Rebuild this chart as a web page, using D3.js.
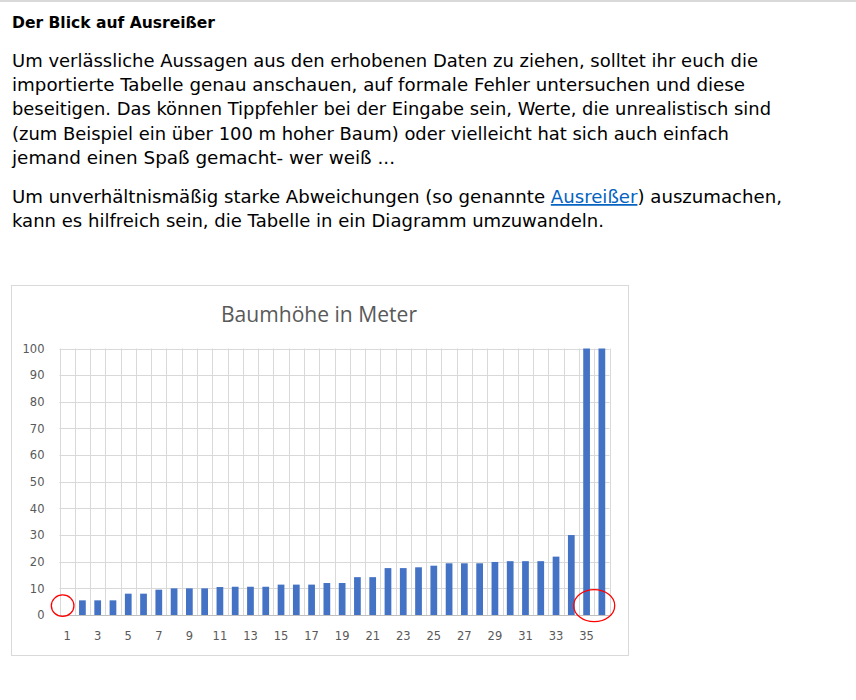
<!DOCTYPE html>
<html>
<head>
<meta charset="utf-8">
<script src="https://cdn.jsdelivr.net/npm/d3@7"></script>
<style>
  body { margin: 0; background: #fff; }
  svg { display: block; }
</style>
</head>
<body>
<div id="page"></div>
<script>
// data
const trees = d3.range(1, 37)
const heights = [0, 5.5, 5.5, 5.5, 8, 8, 9.5, 10, 10, 10, 10.5, 10.6, 10.6, 10.6, 11.4, 11.4, 11.4, 12,
  12, 14.2, 14.2, 17.6, 17.6, 17.9, 18.5, 19.4, 19.4, 19.4, 19.9, 20.2, 20.2, 20.2, 21.9, 30, 120, 150]
const yTicks = [0, 10, 20, 30, 40, 50, 60, 70, 80, 90, 100]
const xTickLabels = trees.filter(d => d % 2 === 1)
const outliers = [[1, 1], [35, 36]]

// text lines: [text, y baseline, width]
const para1 = [
  [`Um verlässliche Aussagen aus den erhobenen Daten zu ziehen, solltet ihr euch die`, 66.5, 746],
  [`importierte Tabelle genau anschauen, auf formale Fehler untersuchen und diese`, 91, 733],
  [`beseitigen. Das können Tippfehler bei der Eingabe sein, Werte, die unrealistisch sind`, 115.3, 759],
  [`(zum Beispiel ein über 100 m hoher Baum) oder vielleicht hat sich auch einfach`, 139.6, 717],
  [`jemand einen Spaß gemacht- wer weiß ...`, 164, 383]
]

const width = 856, height = 700
const svg = d3.select(`#page`).append(`svg`)
  .attr(`width`, width).attr(`height`, height)

const textFont = `"DejaVu Sans", sans-serif`
const chartFont = `"Open Sans", "Liberation Sans", sans-serif`
const tickFont = `"DejaVu Sans", sans-serif`

// top rule
svg.append(`rect`).attr(`x`, 0).attr(`y`, 0).attr(`width`, width).attr(`height`, 2).attr(`fill`, `#d9d9d9`)

// heading
svg.append(`text`)
  .attr(`x`, 12).attr(`y`, 28)
  .attr(`font-family`, textFont).attr(`font-weight`, `bold`).attr(`font-size`, 16.5)
  .attr(`textLength`, 203).attr(`lengthAdjust`, `spacingAndGlyphs`)
  .attr(`fill`, `#000`)
  .text(`Der Blick auf Ausreißer`)

// first paragraph
svg.selectAll(`text.p1`).data(para1).join(`text`)
  .attr(`class`, `p1`)
  .attr(`x`, 12).attr(`y`, d => d[1])
  .attr(`font-family`, textFont).attr(`font-size`, 17.5)
  .attr(`textLength`, d => d[2]).attr(`lengthAdjust`, `spacingAndGlyphs`)
  .attr(`fill`, `#000`)
  .text(d => d[0])

// second paragraph with link
const p2a = svg.append(`text`)
  .attr(`x`, 12).attr(`y`, 203)
  .attr(`font-family`, textFont).attr(`font-size`, 17.5)
  .attr(`textLength`, 770).attr(`lengthAdjust`, `spacingAndGlyphs`)
  .attr(`fill`, `#000`)
p2a.append(`tspan`).text(`Um unverhältnismäßig starke Abweichungen (so genannte `)
p2a.append(`tspan`).attr(`fill`, `#0563c1`).attr(`text-decoration`, `underline`).text(`Ausreißer`)
p2a.append(`tspan`).text(`) auszumachen,`)

svg.append(`text`)
  .attr(`x`, 12).attr(`y`, 227.3)
  .attr(`font-family`, textFont).attr(`font-size`, 17.5)
  .attr(`textLength`, 592).attr(`lengthAdjust`, `spacingAndGlyphs`)
  .attr(`fill`, `#000`)
  .text(`kann es hilfreich sein, die Tabelle in ein Diagramm umzuwandeln.`)

///////////////////////////////////////////////////////////////////////////////
//// CHART
///////////////////////////////////////////////////////////////////////////////

// chart frame
svg.append(`rect`)
  .attr(`x`, 11.5).attr(`y`, 285.5).attr(`width`, 617).attr(`height`, 370)
  .attr(`fill`, `#fff`).attr(`stroke`, `#d9d9d9`)

svg.append(`text`)
  .attr(`x`, 319).attr(`y`, 321.5)
  .attr(`text-anchor`, `middle`)
  .attr(`font-family`, chartFont).attr(`font-size`, 21.5)
  .attr(`textLength`, 196).attr(`lengthAdjust`, `spacingAndGlyphs`)
  .attr(`fill`, `#595959`)
  .text(`Baumhöhe in Meter`)

const plot = { left: 59.5, right: 609.5, top: 348.5, bottom: 615 }

const x = d3.scaleBand()
  .domain(trees)
  .range([plot.left, plot.right])
  .paddingInner(0.56)
  .paddingOuter(0.28)

const y = d3.scaleLinear()
  .domain([0, 100])
  .range([plot.bottom, plot.top])

const step = x.step()

// horizontal gridlines
svg.append(`g`).selectAll(`line`).data(yTicks).join(`line`)
  .attr(`x1`, plot.left).attr(`x2`, plot.right)
  .attr(`y1`, d => Math.round(y(d)) + 0.5).attr(`y2`, d => Math.round(y(d)) + 0.5)
  .attr(`stroke`, d => d === 0 ? `#bfbfbf` : `#d9d9d9`)

// vertical gridlines at category boundaries
svg.append(`g`).selectAll(`line`).data(d3.range(0, trees.length + 1)).join(`line`)
  .attr(`x1`, d => Math.round(plot.left + d * step) + 0.5)
  .attr(`x2`, d => Math.round(plot.left + d * step) + 0.5)
  .attr(`y1`, plot.top).attr(`y2`, plot.bottom)
  .attr(`stroke`, `#d9d9d9`)

// clip to plot area
svg.append(`clipPath`).attr(`id`, `plotclip`)
  .append(`rect`)
  .attr(`x`, plot.left).attr(`y`, plot.top)
  .attr(`width`, plot.right - plot.left).attr(`height`, plot.bottom - plot.top)

// bars
svg.append(`g`).attr(`clip-path`, `url(#plotclip)`)
  .selectAll(`rect`).data(heights).join(`rect`)
  .attr(`x`, (d, i) => x(trees[i]))
  .attr(`width`, x.bandwidth())
  .attr(`y`, d => y(d))
  .attr(`height`, d => y(0) - y(d))
  .attr(`fill`, `#4472c4`)

// y axis labels
const yAxis = svg.append(`g`)
  .attr(`transform`, `translate(${plot.left - 15},0)`)
  .call(d3.axisLeft(y).tickValues(yTicks).tickSize(0).tickPadding(0))
yAxis.select(`.domain`).remove()
yAxis.selectAll(`text`)
  .attr(`font-family`, tickFont).attr(`font-size`, 11.5)
  .attr(`fill`, `#595959`)

// x axis labels
const xAxis = svg.append(`g`)
  .attr(`transform`, `translate(0,${plot.bottom})`)
  .call(d3.axisBottom(x).tickValues(xTickLabels).tickSize(0).tickPadding(17))
xAxis.select(`.domain`).remove()
xAxis.selectAll(`text`)
  .attr(`font-family`, tickFont).attr(`font-size`, 11.5)
  .attr(`fill`, `#595959`)

// red outlier markers
svg.append(`g`).selectAll(`ellipse`).data(outliers).join(`ellipse`)
  .attr(`cx`, d => d[0] === d[1]
    ? x(d[0]) + x.bandwidth() / 2 - 4.5
    : (x(d[0]) + x(d[1]) + x.bandwidth()) / 2)
  .attr(`cy`, d => y(3.5))
  .attr(`rx`, d => d[0] === d[1] ? 11.3 : 20.5)
  .attr(`ry`, d => d[0] === d[1] ? 10.7 : 16)
  .attr(`fill`, `none`)
  .attr(`stroke`, `#ff0000`)
  .attr(`stroke-width`, 1.3)
</script>
</body>
</html>
